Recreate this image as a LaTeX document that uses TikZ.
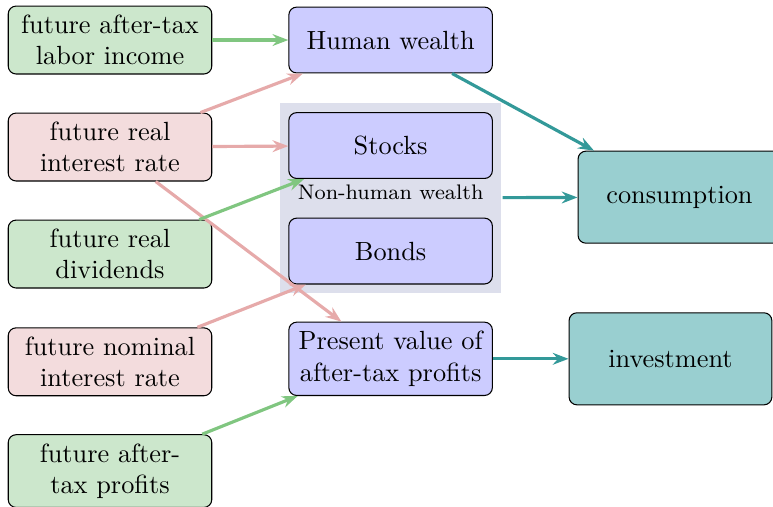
\documentclass[tikz,border=0pt]{standalone}
\usepackage{amsmath,amssymb}
\usepackage{color,tikz}
\usetikzlibrary{arrows.meta}
\definecolor{gfill}{RGB}{204,231,204}
\definecolor{garrow}{RGB}{128,198,128}
\definecolor{rfill}{RGB}{243,220,221}
\definecolor{rarrow}{RGB}{230,170,170}
\definecolor{bfill}{RGB}{204,204,255}
\definecolor{tfill}{RGB}{153,207,208}
\definecolor{tarrow}{RGB}{51,153,153}
\definecolor{nhfill}{RGB}{221,223,236}
\begin{document}
\begin{tikzpicture}
			[scale=1, very thick,
			block/.style ={rectangle, rounded corners=3pt, draw=black, thin, align=center, minimum width=2.72cm, minimum height=0.9cm},
			driver/.style ={block, fill=gfill},
			rate/.style ={block, fill=rfill},
			wealth/.style ={block, fill=bfill, minimum height=0.88cm},
			outcome/.style ={block, fill=tfill, minimum width=2.71cm, minimum height=1.23cm},
			link/.style ={-{Stealth[length=6pt,width=4.5pt,inset=2pt]}}]
			\useasboundingbox (0,0) rectangle (10.33,6.775);
			% non-human wealth background
			\node[fill=nhfill, minimum width=2.95cm, minimum height=2.55cm, inner sep=0pt] (nhw) at (5.22,4.13) {};
			\node[font=\footnotesize] (nhwlabel) at (5.22,4.21) {Non-human wealth};
			% left column
			\node[driver] (labor) at (1.47,6.24) {future after-tax\\labor income};
			\node[rate] (realrate) at (1.47,4.81) {future real\\interest rate};
			\node[driver] (dividends) at (1.47,3.38) {future real\\dividends};
			\node[rate] (nomrate) at (1.47,1.94) {future nominal\\interest rate};
			\node[driver] (profits) at (1.47,0.48) {future after-\\tax profits};
			% middle column
			\node[wealth] (human) at (5.22,6.24) {Human wealth};
			\node[wealth] (stocks) at (5.22,4.83) {Stocks};
			\node[wealth] (bonds) at (5.22,3.42) {Bonds};
			\node[wealth, minimum height=0.98cm] (pv) at (5.22,1.98) {Present value of\\after-tax profits};
			% right column
			\node[outcome] (consumption) at (9.08,4.14) {consumption};
			\node[outcome] (investment) at (8.96,1.98) {investment};
			% arrows
			\draw[link, garrow] (labor) -- (human);
			\draw[link, rarrow] (realrate) -- (human);
			\draw[link, rarrow] (realrate) -- (stocks);
			\draw[link, rarrow] (realrate) -- (pv);
			\draw[link, garrow] (dividends) -- (stocks);
			\draw[link, rarrow] (nomrate) -- (bonds);
			\draw[link, garrow] (profits) -- (pv);
			\draw[link, tarrow] (human) -- (consumption);
			\draw[link, tarrow] (nhw) -- (consumption);
			\draw[link, tarrow] (pv) -- (investment);
		\end{tikzpicture}
\end{document}
